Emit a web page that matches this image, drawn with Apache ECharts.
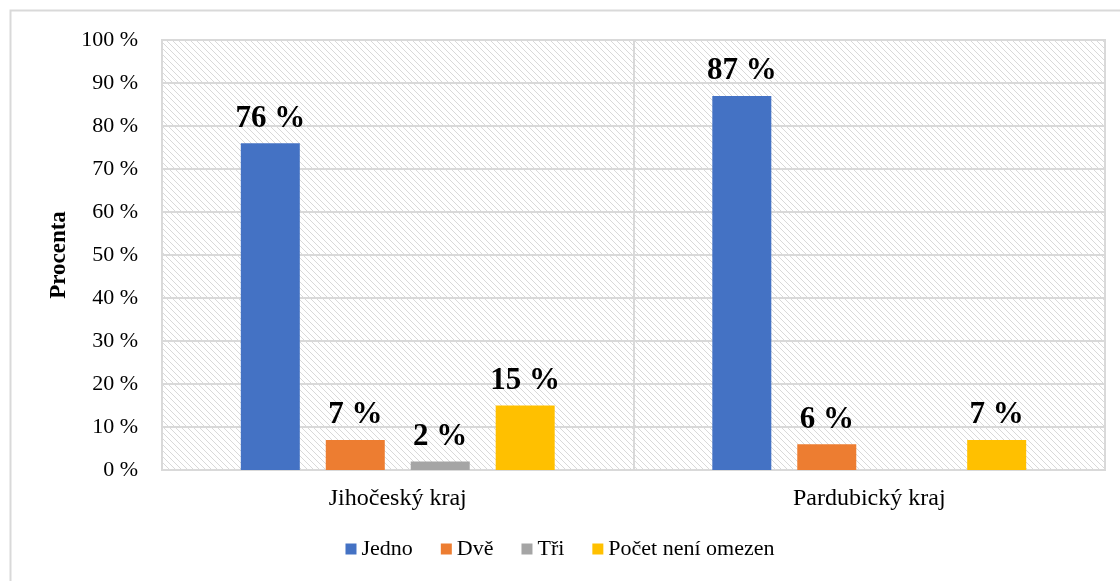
<!DOCTYPE html>
<html lang="cs">
<head>
    <meta charset="UTF-8">
    <title>Procenta</title>
    <script src="https://cdn.jsdelivr.net/npm/echarts@6/dist/echarts.min.js"></script>
    <style>
        html, body { margin: 0; padding: 0; background: #fff; }
        #chart { width: 1120px; height: 581px; }
    </style>
</head>
<body>
<div id="chart"></div>
<script>
    const categories = ['Jihočeský kraj', 'Pardubický kraj'];
    const seriesNames = ['Jedno', 'Dvě', 'Tři', 'Počet není omezen'];
    const jedno = [76, 87];
    const dve = [7, 6];
    const tri = [2, null];
    const pocet = [15, 7];
    const colors = ['#4472C4', '#ED7D31', '#A5A5A5', '#FFC000'];
    const yTicks = [0, 10, 20, 30, 40, 50, 60, 70, 80, 90, 100];

    /* šrafované pozadí plochy grafu */
    function hatch() {
        const c = document.createElement('canvas');
        c.width = 6; c.height = 6;
        const ctx = c.getContext('2d');
        ctx.fillStyle = '#fff';
        ctx.fillRect(0, 0, 6, 6);
        ctx.strokeStyle = '#d9d9d9';
        ctx.lineWidth = 1;
        ctx.beginPath();
        ctx.moveTo(-1, -1); ctx.lineTo(7, 7);
        ctx.moveTo(-1, 5); ctx.lineTo(1, 7);
        ctx.moveTo(5, -1); ctx.lineTo(7, 1);
        ctx.stroke();
        return c;
    }

    const font = '"Liberation Serif", "Times New Roman", serif';
    const data = [jedno, dve, tri, pocet];

    const chart = echarts.init(document.getElementById('chart'));
    chart.setOption({
        animation: false,
        textStyle: { fontFamily: font },
        graphic: [{
            type: 'rect',
            shape: { x: 10.5, y: 10.5, width: 1200, height: 700 },
            style: { fill: 'none', stroke: '#d9d9d9', lineWidth: 2 },
            silent: true
        }],
        grid: {
            left: 162, right: 15, top: 40, bottom: 111,
            show: true,
            backgroundColor: { image: hatch(), repeat: 'repeat' },
            borderColor: '#d9d9d9',
            borderWidth: 2
        },
        legend: {
            bottom: 16,
            left: 'center',
            itemWidth: 11,
            itemHeight: 11,
            itemGap: 28,
            icon: 'rect',
            textStyle: { fontFamily: font, fontSize: 22, color: '#000' },
            data: seriesNames
        },
        xAxis: {
            type: 'category',
            data: categories,
            axisLine: { show: true, lineStyle: { color: '#d9d9d9', width: 2 } },
            axisTick: { show: false },
            splitLine: { show: true, lineStyle: { color: '#d9d9d9', width: 2 } },
            axisLabel: { color: '#000', fontSize: 24, fontFamily: font, margin: 17 }
        },
        yAxis: {
            type: 'value',
            min: 0,
            max: 100,
            interval: 10,
            name: 'Procenta',
            nameLocation: 'middle',
            nameGap: 90,
            nameTextStyle: { color: '#000', fontSize: 23, fontWeight: 'bold', fontFamily: font },
            axisLine: { show: false },
            axisTick: { show: false },
            splitLine: { lineStyle: { color: '#d9d9d9', width: 2 } },
            axisLabel: {
                color: '#000', fontSize: 22, fontFamily: font, margin: 24,
                formatter: v => yTicks.includes(v) ? v + ' %' : ''
            }
        },
        series: seriesNames.map((name, i) => ({
            name: name,
            type: 'bar',
            data: data[i],
            barWidth: 59,
            barGap: '44%',
            itemStyle: { color: colors[i] },
            label: {
                show: true,
                position: 'top',
                distance: 9,
                color: '#000',
                fontSize: 31,
                fontWeight: 'bold',
                fontFamily: font,
                formatter: p => p.value == null ? '' : p.value + ' %'
            }
        }))
    });
</script>
</body>
</html>
